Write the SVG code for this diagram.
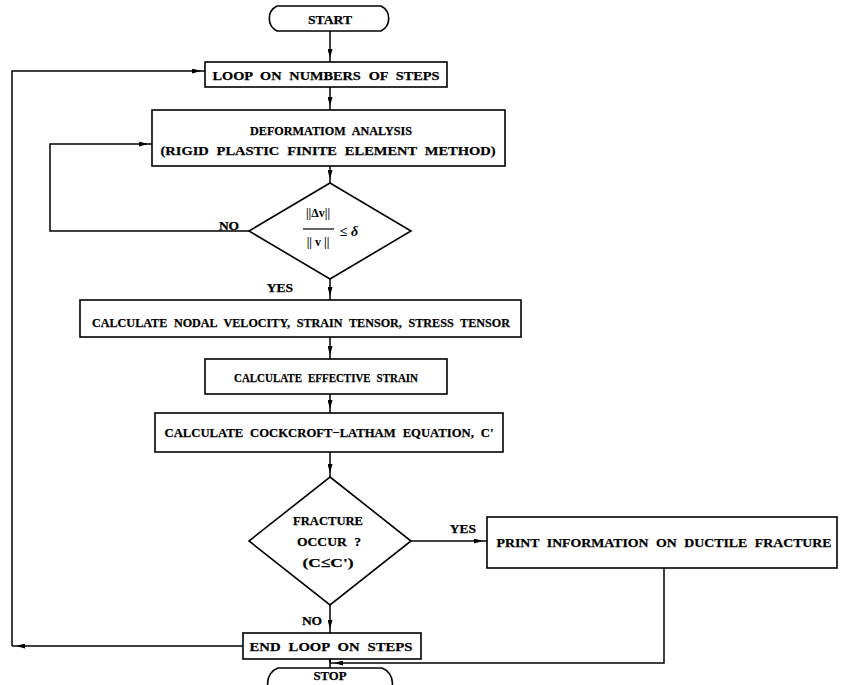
<svg xmlns="http://www.w3.org/2000/svg" width="844" height="685" viewBox="0 0 844 685">
<defs>
<style>
.b{fill:#fff;stroke:#000;stroke-width:1.6}
.c{fill:none;stroke:#000;stroke-width:1.5}
.t{font-family:"Liberation Serif","Times New Roman",serif;font-weight:bold;font-size:13.5px;fill:#000;stroke:#000;stroke-width:0.25;text-anchor:middle;dominant-baseline:central;word-spacing:4px}
.s{font-family:"Liberation Serif","Times New Roman",serif;font-weight:bold;font-size:12px;fill:#000;text-anchor:middle}
</style>
<marker id="ah" markerUnits="userSpaceOnUse" viewBox="0 0 9 5" markerWidth="9" markerHeight="5" refX="13" refY="2.5" orient="auto">
<path d="M0,0 L9,2.5 L0,5 Z" fill="#000"/>
</marker>
</defs>
<rect width="844" height="685" fill="#fff"/>
<g id="connectors">
<path class="c" d="M330,31 V62" marker-end="url(#ah)"/>
<path class="c" d="M330,87 V110" marker-end="url(#ah)"/>
<path class="c" d="M330,166 V183" marker-end="url(#ah)"/>
<path class="c" d="M249,231 H50 V144 H152" marker-end="url(#ah)"/>
<path class="c" d="M330,279 V300" marker-end="url(#ah)"/>
<path class="c" d="M330,337 V359" marker-end="url(#ah)"/>
<path class="c" d="M330,394 V413" marker-end="url(#ah)"/>
<path class="c" d="M330,452 V477" marker-end="url(#ah)"/>
<path class="c" d="M411,541 H487" marker-end="url(#ah)"/>
<path class="c" d="M330,605 V633" marker-end="url(#ah)"/>
<path class="c" d="M664,568 V663 H330" marker-end="url(#ah)"/>
<path class="c" d="M330,659 V668" marker-end="url(#ah)"/>
<path class="c" d="M243,646 H12" marker-end="url(#ah)"/>
<path class="c" d="M12,646 V71 H205" marker-end="url(#ah)"/>
<text class="t" x="229" y="225">NO</text>
<text class="t" x="280" y="287">YES</text>
<text class="t" x="463" y="528">YES</text>
<text class="t" x="312" y="620">NO</text>
</g>
<g id="start">
<path class="b" d="M277,6 H381 A14,14 0 0 1 381,31 H277 A14,14 0 0 1 277,6 Z"/>
<text class="t" x="330" y="19" textLength="44" lengthAdjust="spacingAndGlyphs">START</text>
</g>
<g id="loop">
<rect class="b" x="205" y="62" width="242" height="25"/>
<text class="t" x="326" y="75" textLength="227" lengthAdjust="spacingAndGlyphs">LOOP ON NUMBERS OF STEPS</text>
</g>
<g id="deformation">
<rect class="b" x="152" y="110" width="353" height="56"/>
<text class="t" x="331" y="130" textLength="162" lengthAdjust="spacingAndGlyphs">DEFORMATIOM ANALYSIS</text>
<text class="t" x="328" y="150" textLength="335" lengthAdjust="spacingAndGlyphs">(RIGID PLASTIC FINITE ELEMENT METHOD)</text>
</g>
<g id="convergence">
<polygon class="b" points="330,183 411,231 330,279 249,231"/>
<text class="s" x="318" y="217">||Δv||</text>
<line x1="303" y1="229" x2="334" y2="229" stroke="#000" stroke-width="1.2"/>
<text class="s" x="318" y="246">|| v ||</text>
<text class="s" x="349" y="236" style="font-size:14px">≤ <tspan font-style="italic">δ</tspan></text>
</g>
<g id="nodal">
<rect class="b" x="80" y="300" width="441" height="37"/>
<text class="t" x="301" y="322" textLength="418" lengthAdjust="spacingAndGlyphs">CALCULATE NODAL VELOCITY, STRAIN TENSOR, STRESS TENSOR</text>
</g>
<g id="effective">
<rect class="b" x="205" y="359" width="242" height="35"/>
<text class="t" x="326" y="377" textLength="184" lengthAdjust="spacingAndGlyphs">CALCULATE EFFECTIVE STRAIN</text>
</g>
<g id="cockcroft">
<rect class="b" x="155" y="413" width="348" height="39"/>
<text class="t" x="329" y="432" textLength="329" lengthAdjust="spacingAndGlyphs">CALCULATE COCKCROFT−LATHAM EQUATION, C'</text>
</g>
<g id="fracture">
<polygon class="b" points="330,477 411,541 330,605 249,541"/>
<text class="t" x="328" y="520" textLength="70" lengthAdjust="spacingAndGlyphs">FRACTURE</text>
<text class="t" x="329" y="541" textLength="64" lengthAdjust="spacingAndGlyphs">OCCUR ?</text>
<text class="t" x="328" y="562" textLength="51" lengthAdjust="spacingAndGlyphs">(C≤C')</text>
</g>
<g id="print">
<rect class="b" x="487" y="517" width="350" height="51"/>
<text class="t" x="664" y="542" textLength="335" lengthAdjust="spacingAndGlyphs">PRINT INFORMATION ON DUCTILE FRACTURE</text>
</g>
<g id="endloop">
<rect class="b" x="243" y="633" width="178" height="26"/>
<text class="t" x="331" y="646" textLength="163" lengthAdjust="spacingAndGlyphs">END LOOP ON STEPS</text>
</g>
<g id="stop">
<path class="b" d="M278,668 H382 A16,16 0 0 1 382,698 H278 A16,16 0 0 1 278,668 Z"/>
<text class="t" x="330" y="676" textLength="33" lengthAdjust="spacingAndGlyphs" style="font-size:12.5px">STOP</text>
</g>
</svg>
